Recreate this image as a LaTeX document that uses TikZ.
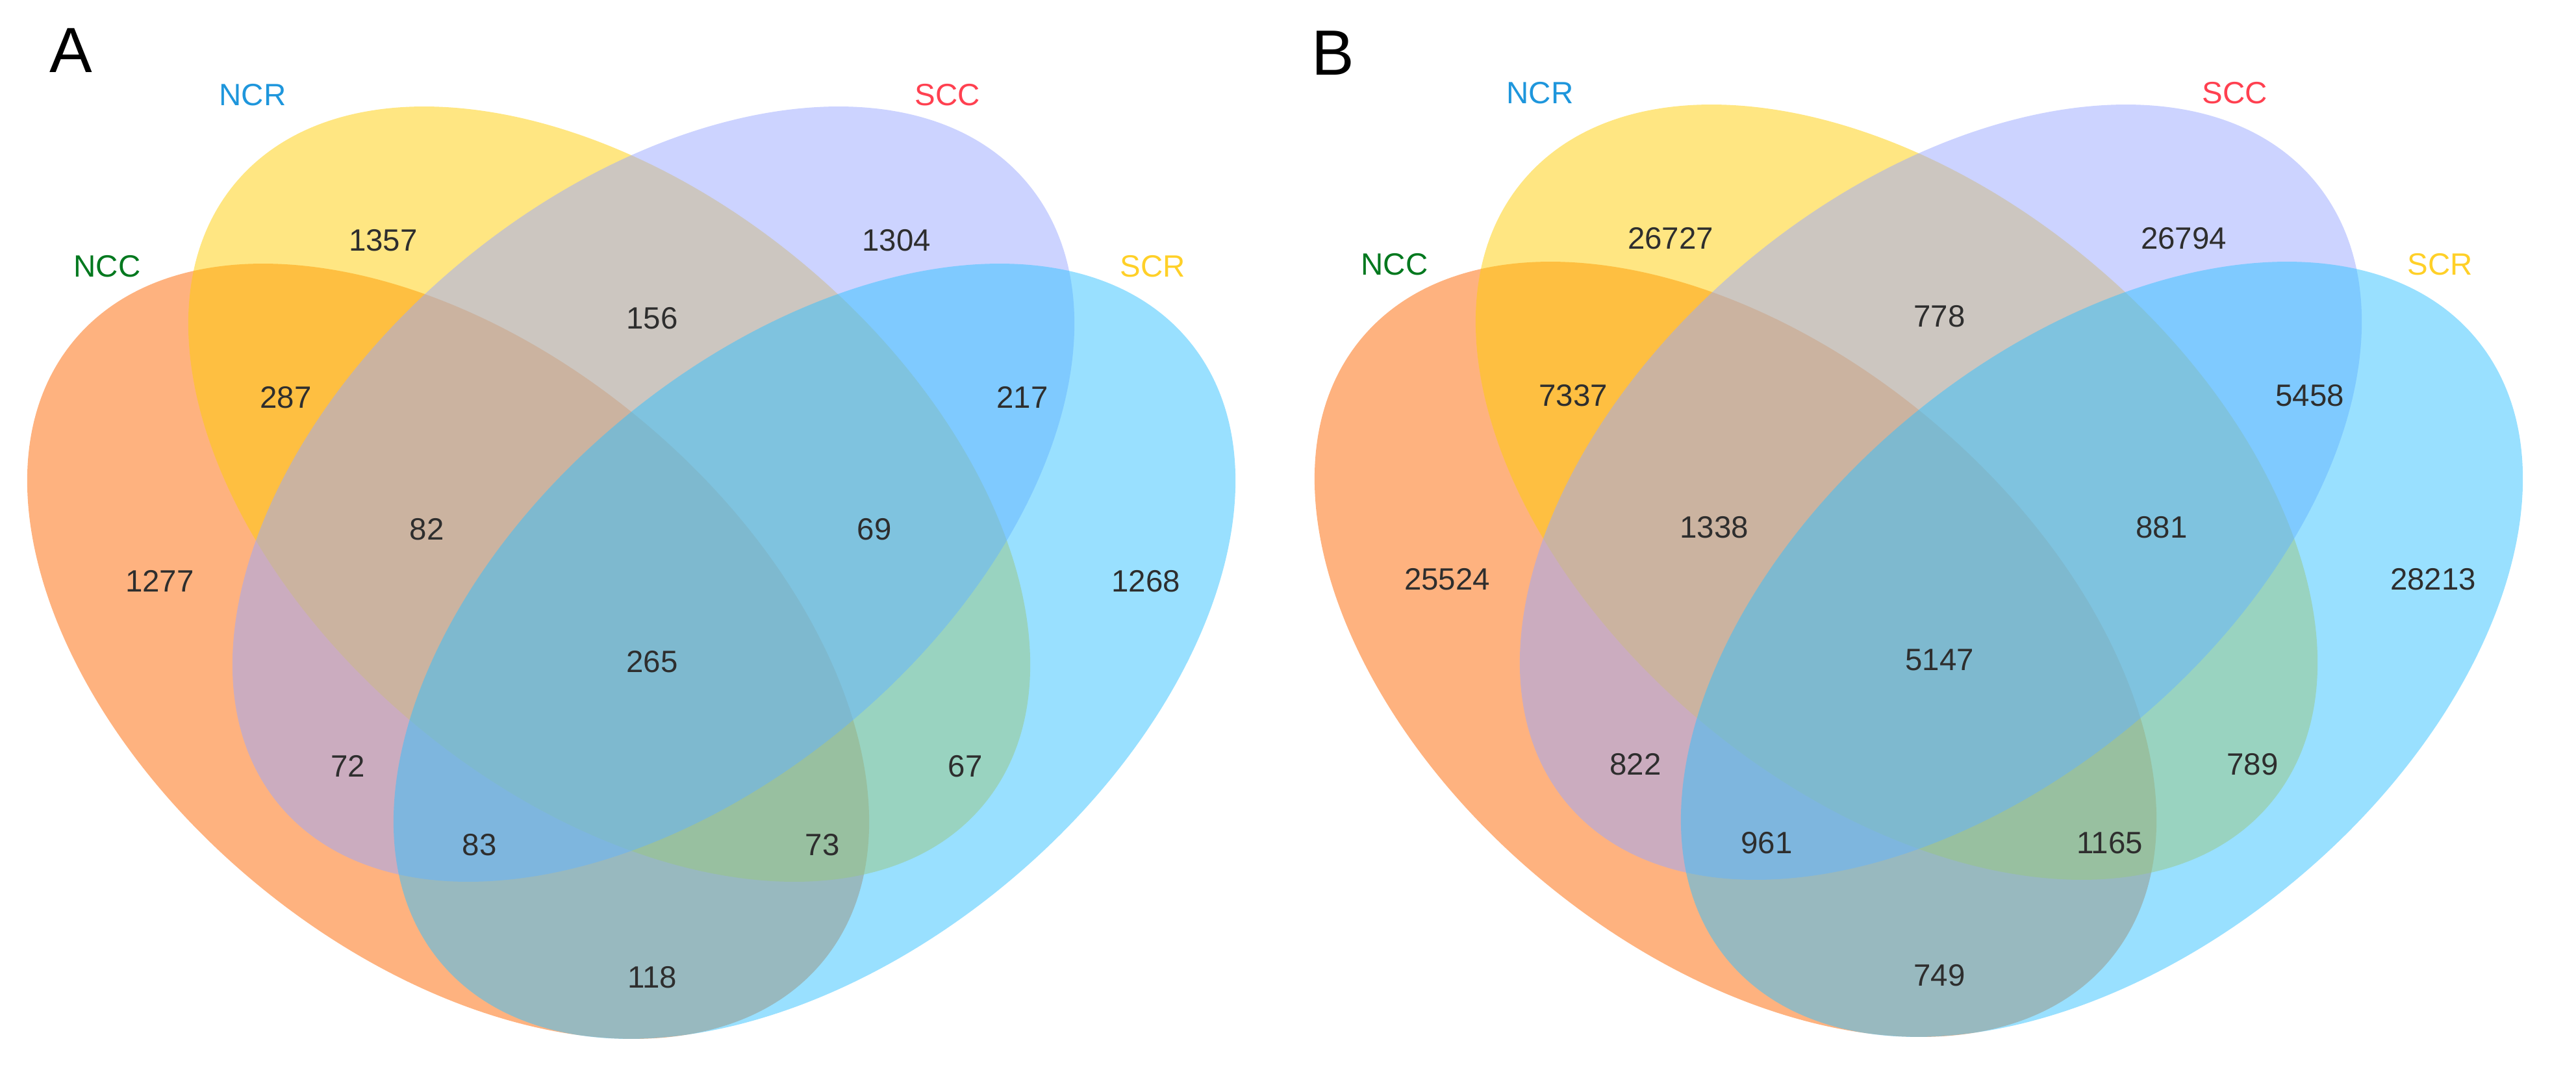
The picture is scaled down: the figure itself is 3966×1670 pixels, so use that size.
\documentclass[tikz,border=0pt]{standalone}
\usepackage{fontspec}
\setmainfont{Liberation Sans}
\usepackage{tikz}
\usetikzlibrary{positioning}
\usepackage{xcolor}
\definecolor{myorange}{RGB}{253,101,0}
\definecolor{myyellow}{RGB}{255,205,5}
\definecolor{mypurple}{RGB}{153,167,255}
\definecolor{myblue}{RGB}{51,193,255}
\definecolor{mygreen}{RGB}{0,120,30}
\definecolor{mysky}{RGB}{30,150,220}
\definecolor{myred}{RGB}{255,64,80}
\definecolor{mygold}{RGB}{255,208,40}
\colorlet{mytext}{black!82}
\tikzstyle{venn}=[fill opacity=0.5, draw=none]
\tikzstyle{set_ncc}=[venn, fill=myorange]
\tikzstyle{set_ncr}=[venn, fill=myyellow]
\tikzstyle{set_scc}=[venn, fill=mypurple]
\tikzstyle{set_scr}=[venn, fill=myblue]
\tikzstyle{setname}=[font=\fontsize{13.5}{16}\selectfont, inner sep=0pt]
\tikzstyle{setcount}=[font=\fontsize{13.5}{16}\selectfont, text=mytext, inner sep=0pt]
\tikzstyle{panellabel}=[font=\fontsize{28}{32}\selectfont, inner sep=0pt]

\begin{document}
\begin{tikzpicture}[x=0.1mm, y=-0.1mm]
\useasboundingbox (0,0) rectangle (3966,1670);

% the four sets and their names, same in both panels
\foreach \dx/\dy/\p in {0/0/a, 1982/-3/b} {
  \begin{scope}[shift={(\dx,\dy)}]
    \fill[set_ncc] (690,1003) ellipse [x radius=74.9mm, y radius=46.4mm, rotate=-39.7];
    \fill[set_ncr] (938,761) ellipse [x radius=74.9mm, y radius=46.4mm, rotate=-39.7];
    \fill[set_scc] (1006,761) ellipse [x radius=74.9mm, y radius=46.4mm, rotate=39.7];
    \fill[set_scr] (1254,1003) ellipse [x radius=74.9mm, y radius=46.4mm, rotate=39.7];

    \node[setname, text=mygreen] (\p-ncc) at (165,410) {NCC};
    \node[setname, text=mysky] (\p-ncr) at (389,146) {NCR};
    \node[setname, text=myred] (\p-scc) at (1459,146) {SCC};
    \node[setname, text=mygold] (\p-scr) at (1775,410) {SCR};
  \end{scope}
}

\node[panellabel] (lab-a) at (109,78) {A};
\node[panellabel] (lab-b) at (2052,82) {B};

% Panel A
\node[setcount] (a-1) at (590,370) {1357};
\node[setcount] (a-2) at (1380,370) {1304};
\node[setcount] (a-3) at (1004,490) {156};
\node[setcount] (a-4) at (440,612) {287};
\node[setcount] (a-5) at (1574,612) {217};
\node[setcount] (a-6) at (657,815) {82};
\node[setcount] (a-7) at (1346,815) {69};
\node[setcount] (a-8) at (246,895) {1277};
\node[setcount] (a-9) at (1764,895) {1268};
\node[setcount] (a-10) at (1004,1019) {265};
\node[setcount] (a-11) at (536,1180) {72};
\node[setcount] (a-12) at (1486,1180) {67};
\node[setcount] (a-13) at (738,1301) {83};
\node[setcount] (a-14) at (1266,1301) {73};
\node[setcount] (a-15) at (1004,1505) {118};

% Panel B
\begin{scope}[shift={(1982,-3)}]
\node[setcount] (b-1) at (590,370) {26727};
\node[setcount] (b-2) at (1380,370) {26794};
\node[setcount] (b-3) at (1004,490) {778};
\node[setcount] (b-4) at (440,612) {7337};
\node[setcount] (b-5) at (1574,612) {5458};
\node[setcount] (b-6) at (657,815) {1338};
\node[setcount] (b-7) at (1346,815) {881};
\node[setcount] (b-8) at (246,895) {25524};
\node[setcount] (b-9) at (1764,895) {28213};
\node[setcount] (b-10) at (1004,1019) {5147};
\node[setcount] (b-11) at (536,1180) {822};
\node[setcount] (b-12) at (1486,1180) {789};
\node[setcount] (b-13) at (738,1301) {961};
\node[setcount] (b-14) at (1266,1301) {1165};
\node[setcount] (b-15) at (1004,1505) {749};
\end{scope}

\end{tikzpicture}
\end{document}
